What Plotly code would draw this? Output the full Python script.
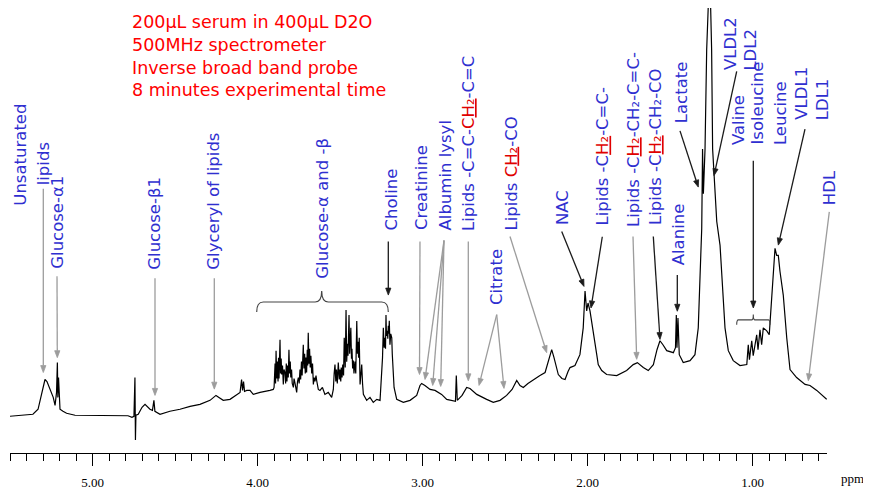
import math
import plotly.graph_objects as go

# ---------------- data ----------------
ppm = [5.500, 5.409, 5.361, 5.330, 5.318, 5.300, 5.288, 5.276, 5.258, 5.238, 5.227, 5.218, 5.213, 5.210,
       5.206, 5.200, 5.197, 5.179, 5.157, 5.106, 5.015, 4.924, 4.834, 4.785, 4.761, 4.749, 4.743, 4.740,
       4.737, 4.723, 4.700, 4.682, 4.664, 4.652, 4.637, 4.628, 4.622, 4.611, 4.591, 4.531, 4.470, 4.409,
       4.349, 4.288, 4.252, 4.234, 4.208, 4.167, 4.126, 4.106, 4.097, 4.091, 4.085, 4.079, 4.066, 4.046,
       4.026, 3.985, 3.925, 3.905,
       # glucose region 1
       3.900, 3.894, 3.891, 3.888, 3.884, 3.880, 3.876, 3.873, 3.870, 3.867, 3.864, 3.861, 3.857, 3.854,
       3.849, 3.844, 3.840, 3.834, 3.830, 3.826, 3.822, 3.819, 3.814, 3.810, 3.806, 3.802, 3.799, 3.794,
       3.790, 3.783, 3.779, 3.773, 3.767, 3.763, 3.758, 3.753, 3.748, 3.743, 3.739, 3.734, 3.730, 3.723,
       3.719, 3.715, 3.711, 3.707, 3.703, 3.699, 3.696, 3.693, 3.689, 3.685, 3.681, 3.677, 3.672, 3.667,
       3.662, 3.657, 3.652, 3.646, 3.642, 3.632, 3.622, 3.607, 3.592, 3.572, 3.551,
       # glucose region 2
       3.541, 3.536, 3.531, 3.526, 3.522, 3.517, 3.511, 3.505, 3.501, 3.496, 3.493, 3.488, 3.484, 3.479,
       3.475, 3.469, 3.464, 3.460, 3.456, 3.452, 3.446, 3.442, 3.439, 3.435, 3.431, 3.428, 3.424, 3.420,
       3.416, 3.410, 3.405, 3.399, 3.395, 3.391, 3.388, 3.384, 3.379, 3.374, 3.369, 3.364, 3.359, 3.339,
       3.319, 3.299, 3.278,
       # choline region
       3.258, 3.252, 3.248, 3.243, 3.238, 3.233, 3.228, 3.225, 3.222, 3.219, 3.214, 3.211, 3.208, 3.205,
       3.202, 3.198, 3.193, 3.187, 3.184, 3.181, 3.173, 3.157,
       3.117, 3.076, 3.036, 3.016, 3.006, 2.986, 2.955, 2.925, 2.885, 2.854, 2.834, 2.801, 2.796, 2.790,
       2.761, 2.733, 2.713, 2.672, 2.612, 2.572, 2.531, 2.491, 2.458, 2.430, 2.410, 2.390, 2.362, 2.329,
       2.289, 2.258, 2.240, 2.218, 2.204, 2.178, 2.156, 2.137, 2.119, 2.107, 2.077, 2.059, 2.047, 2.027,
       2.016, 2.006, 1.998, 1.986, 1.966, 1.945, 1.936, 1.915, 1.885, 1.824, 1.764, 1.724, 1.699, 1.663,
       1.633, 1.602, 1.580, 1.562, 1.544, 1.521, 1.481, 1.468, 1.463, 1.459, 1.453, 1.445, 1.421, 1.380,
       1.350, 1.330, 1.319, 1.309, 1.304, 1.299, 1.289, 1.279, 1.268, 1.262, 1.256, 1.249, 1.243, 1.235,
       1.218, 1.198, 1.178, 1.168, 1.148, 1.118, 1.077, 1.036, 1.027, 1.020, 1.006, 0.997, 0.976, 0.968,
       0.956, 0.946, 0.936, 0.915, 0.900, 0.885, 0.865, 0.855, 0.845, 0.835, 0.815, 0.794, 0.774, 0.734,
       0.683, 0.653, 0.612, 0.552]

intensity = [37, 38, 39, 44, 53, 66, 74, 72, 64, 56, 48, 61, 91, 56,
             76, 51, 44, 42, 40, 38, 38, 38, 38, 37.5, 36, 37, 76, 13,
             38, 39, 46, 49, 46, 44, 43, 53, 42, 41, 39, 42, 44, 47,
             49, 53, 58, 56, 53, 54, 59, 61, 74, 63, 72, 62, 63, 63,
             59, 61, 63, 64,
             66, 90, 70, 103, 75, 92, 72, 96, 75, 100, 114, 80, 95, 79,
             88, 69, 84, 81, 70, 90, 72, 88, 76, 104, 80, 92, 76, 84,
             70, 66, 75, 70, 64, 61, 72, 76, 70, 84, 74, 92, 78, 109,
             85, 100, 80, 96, 81, 104, 88, 121, 90, 105, 86, 98, 80, 90,
             69, 76, 72, 78, 73, 64, 63, 66, 59, 61, 56,
             64, 80, 89, 72, 84, 70, 91, 74, 84, 72, 86, 76, 89, 78,
             116, 86, 144, 92, 110, 98, 139, 100, 118, 126, 95, 105, 85, 93,
             80, 92, 80, 133, 100, 112, 96, 116, 69, 80, 89, 70, 59, 53,
             56, 51, 54,
             53, 70, 76, 96, 126, 106, 116, 105, 139, 118, 123, 115, 128, 120,
             133, 109, 120, 116, 100, 93, 66, 54,
             51, 53, 58, 68, 70, 68, 64, 63, 59, 54, 53, 52, 78, 53,
             58, 66, 65, 59, 54, 51, 53, 58, 64, 73, 68, 66, 70, 74,
             78, 81, 91, 104, 96, 79, 75, 74, 82, 86, 88, 94, 99, 126,
             163, 143, 151, 143, 119, 99, 89, 83, 79, 78, 83, 89, 91, 86,
             83, 89, 104, 113, 109, 103, 101, 106, 139, 106, 136, 99, 91, 93,
             99, 126, 179, 226, 306, 261, 306, 406, 456, 476, 456, 406, 306, 278,
             233, 209, 159, 126, 103, 93, 88, 89, 109, 94, 113, 98, 119, 104,
             124, 109, 126, 123, 119, 159, 206, 199, 199, 183, 159, 116, 84, 76,
             69, 68, 63, 54]

tick_values = [5, 4, 3, 2, 1]
tick_labels = ["5.00", "4.00", "3.00", "2.00", "1.00"]

info_lines = ["200\u00b5L serum in 400\u00b5L D2O", "500MHz spectrometer",
              "Inverse broad band probe", "8 minutes experimental time"]

RED = "#E00000"
SUB2 = "\u2082"
def ch2(c_red=True):
    c = f"<span style='color:{RED}'>C</span>" if c_red else "C"
    return c + f"<span style='color:{RED}'><u>H{SUB2}</u></span>"

label_texts = ["Unsaturated", "lipids", "Glucose-\u03b11", "Glucose-\u03b21", "Glyceryl of lipids",
               "Glucose-\u03b1 and -\u03b2", "Choline", "Creatinine", "Albumin lysyl",
               "Lipids -C=C-" + ch2(True) + "-C=C", "Lipids " + ch2(True) + "-CO", "Citrate", "NAC",
               "Lipids -" + ch2(False) + "-C=C-", "Lipids -" + ch2(False) + "-CH" + SUB2 + "-C=C-",
               "Lipids -" + ch2(False) + "-CH" + SUB2 + "-CO", "Alanine", "Lactate", "VLDL2", "LDL2",
               "Valine", "Isoleucine", "Leucine", "VLDL1", "LDL1", "HDL"]

# ---------------- layout geometry (page pixels; the page body has an 8px margin) ----------------
OFF = 8
W, H = 871 - OFF, 490 - OFF
AX_L, AX_R, AX_Y = 10, 827, 456          # plot area in page pixels
ML, MT = AX_L - OFF, 0
MR = W - (AX_R - OFF)
MB = H - (AX_Y - OFF)
PW = AX_R - AX_L
PH = AX_Y - OFF
XMAX, XMIN = 5.5, 0.55

def X(px):
    return XMAX - (px - AX_L) / PW * (XMAX - XMIN)

def Y(py):
    return AX_Y - py

def PX(px):
    return (px - AX_L) / PW

def PY(py):
    return (AX_Y - py) / PH

label_pos = [(21, 208), (43, 188), (58, 272), (155, 273), (214, 273), (323, 282), (391, 233),
             (422, 233), (445, 233), (469, 233), (511, 233), (497, 308), (562, 228), (603, 228),
             (633, 230), (655, 228), (678, 268), (681, 125), (730, 72), (751, 72), (738, 147),
             (758, 147), (780, 147), (802, 122), (822, 122), (829, 207)]

GRAY = "#9C9C9C"
BLK = "#1A1A1A"
arrows = [((43.3, 190), (43.3, 375), GRAY), ((57, 278), (57.3, 360), GRAY),
          ((155, 280), (155, 398), GRAY), ((214.3, 280), (214.3, 391.7), GRAY),
          ((388.3, 243), (388.3, 297), BLK), ((420, 243), (419.5, 377), GRAY),
          ((444, 242), (425, 382), GRAY), ((444, 242), (432.7, 388), GRAY), ((444, 242), (440.7, 389), GRAY),
          ((468.3, 243), (468.3, 383.3), GRAY), ((510, 238), (546.7, 355), GRAY),
          ((496.7, 316.7), (479, 388), GRAY), ((496.7, 316.7), (504, 391), GRAY),
          ((561.7, 233), (584, 288.3), BLK), ((602.3, 238.3), (591, 310), BLK),
          ((633, 238), (636.7, 361.7), GRAY), ((653.3, 238), (660, 341.7), BLK),
          ((677.3, 276.7), (677.3, 313.3), BLK), ((680, 131.7), (698.3, 188.3), BLK),
          ((736.7, 71.7), (714, 176.7), BLK), ((753.3, 161.7), (753.3, 310), BLK),
          ((805, 130), (778.3, 246.7), BLK), ((829.3, 213.3), (808.3, 383.3), GRAY)]

fig = go.Figure()
fig.add_trace(go.Scatter(x=ppm, y=intensity, mode="lines",
                         line=dict(color="black", width=1.2), hoverinfo="skip"))

ann = []
BLUE = "#2F2FD0"
FONT = "DejaVu Sans"
for t, (px, py) in zip(label_texts, label_pos):
    ann.append(dict(x=PX(px), y=PY(py), xref="paper", yref="paper", text=t, showarrow=False,
                    textangle=-90, xanchor="center", yanchor="bottom", borderpad=0,
                    font=dict(family=FONT, size=16.5, color=BLUE)))
for i, line in enumerate(info_lines):
    ann.append(dict(x=PX(130), y=PY(22.5 + 22.8 * i), xref="paper", yref="paper",
                    text=line, showarrow=False, xanchor="left", yanchor="middle",
                    font=dict(family=FONT, size=17.5, color="#FF0000")))
ann.append(dict(x=PX(852), y=PY(482), xref="paper", yref="paper", text="ppm",
                showarrow=False, xanchor="center", yanchor="middle",
                font=dict(family="Liberation Serif", size=13, color="black")))

shapes = []
# arrows drawn as a line plus a small filled head
HL, HW = 7.0, 2.6
for (tx, ty), (hx, hy), col in arrows:
    dx, dy = hx - tx, hy - ty
    d = math.hypot(dx, dy)
    ux, uy = dx / d, dy / d
    bx, by = hx - ux * HL, hy - uy * HL
    nx, ny = -uy, ux
    shapes.append(dict(type="line", xref="paper", yref="paper", x0=PX(tx), y0=PY(ty), x1=PX(bx), y1=PY(by),
                       line=dict(color=col, width=1.3)))
    p1 = (bx + nx * HW, by + ny * HW)
    p2 = (bx - nx * HW, by - ny * HW)
    shapes.append(dict(type="path", xref="paper", yref="paper",
                       path=f"M {PX(hx)},{PY(hy)} L {PX(p1[0])},{PY(p1[1])} L {PX(p2[0])},{PY(p2[1])} Z",
                       fillcolor=col, line=dict(color=col, width=0.8)))

def brace(x0, x1, xc, yb, yh, yc):
    r = (x1 - x0) * 0.05
    return (f"M {X(x0)},{Y(yb)} Q {X(x0)},{Y(yh)} {X(x0 + r)},{Y(yh)} L {X(xc - r)},{Y(yh)} "
            f"Q {X(xc)},{Y(yh)} {X(xc)},{Y(yc)} Q {X(xc)},{Y(yh)} {X(xc + r)},{Y(yh)} "
            f"L {X(x1 - r)},{Y(yh)} Q {X(x1)},{Y(yh)} {X(x1)},{Y(yb)}")

shapes.append(dict(type="path", xref="x", yref="y", path=brace(256.7, 388.3, 321.7, 314, 304, 293),
                   line=dict(color="#444444", width=1.2)))
shapes.append(dict(type="path", xref="x", yref="y", path=brace(736.7, 770, 753.3, 327, 322, 316.5),
                   line=dict(color="#444444", width=1.1)))

fig.update_layout(
    width=W, height=H, margin=dict(l=ML, r=MR, t=MT, b=MB, pad=0),
    paper_bgcolor="white", plot_bgcolor="white", showlegend=False,
    annotations=ann, shapes=shapes,
    xaxis=dict(range=[XMAX, XMIN], showgrid=False, zeroline=False, showline=True,
               linecolor="black", linewidth=1.2, ticks="outside", ticklen=12, tickwidth=1.2,
               tickcolor="black", tickvals=tick_values, ticktext=tick_labels,
               ticklabelstandoff=5,
               tickfont=dict(family="Liberation Serif", size=13, color="black"),
               minor=dict(ticks="outside", ticklen=7, tickwidth=1.1, tickcolor="black",
                          dtick=0.1, tick0=0, showgrid=False)),
    yaxis=dict(range=[0, PH], visible=False, fixedrange=True),
)

fig.write_html("out.html")
